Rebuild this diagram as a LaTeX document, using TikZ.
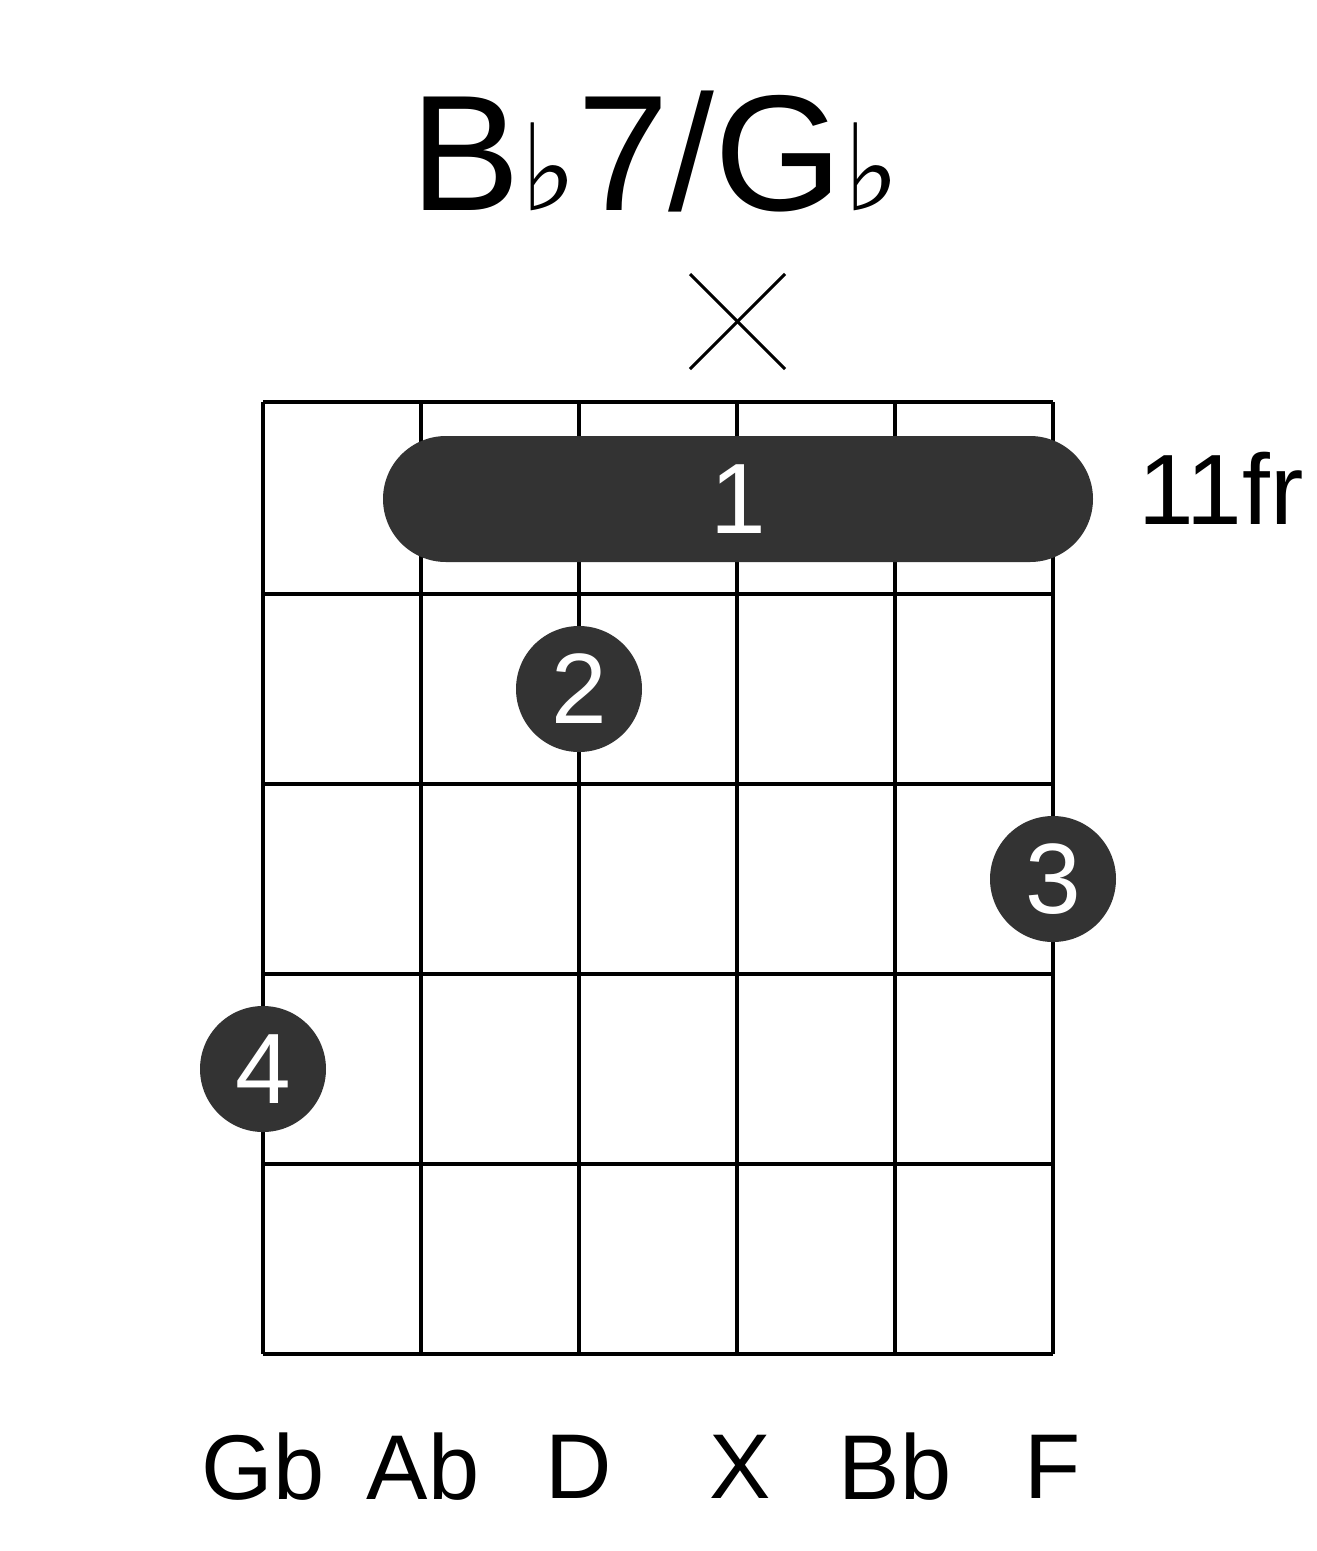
\documentclass[tikz,border=0pt]{standalone}
\usepackage{fontspec}
\setmainfont{Liberation Sans}
\newfontfamily\symf{DejaVu Sans}
\begin{document}
\begin{tikzpicture}[x=1pt,y=-1pt,
  grid/.style={line width=4pt},
  dot/.style={circle,fill=black!80,minimum size=126pt,inner sep=0pt,text=white,font=\fontsize{100}{100}\selectfont},
  lab/.style={font=\fontsize{92}{92}\selectfont,anchor=center}]
\useasboundingbox (0,0) rectangle (1317,1551);
\foreach \x in {263,421,579,737,895,1053} \draw[grid] (\x,402) -- (\x,1354);
\foreach \y in {402,594,784,974,1164,1354} \draw[grid] (263,\y) -- (1053,\y);
\node[fill=black!80,rounded corners=63pt,minimum width=710pt,minimum height=126pt,text=white,font=\fontsize{100}{100}\selectfont] (barre) at (738,499) {1};
\node[dot] (d2) at (579,689) {2};
\node[dot] (d3) at (1053,879) {3};
\node[dot] (d4) at (263,1069) {4};
\node[font=\fontsize{165}{165}\selectfont] (title) at (655,152) {B{\symf\fontsize{120}{120}\selectfont ♭}7/G{\symf\fontsize{120}{120}\selectfont ♭}};
\coordinate (xa) at (690,274); \coordinate (xb) at (785,369);
\coordinate (xc) at (785,274); \coordinate (xd) at (690,369);
\draw[line width=3pt] (xa) -- (xb); \draw[line width=3pt] (xc) -- (xd);
\node[font=\fontsize{100}{100}\selectfont,anchor=west] (fr) at (1135,488) {11fr};
\node[lab] (s1) at (263,1467) {Gb};
\node[lab] (s2) at (423,1467) {Ab};
\node[lab] (s3) at (579,1467) {D};
\node[lab] (s4) at (740,1467) {X};
\node[lab] (s5) at (895,1467) {Bb};
\node[lab] (s6) at (1053,1467) {F};
\end{tikzpicture}
\end{document}
